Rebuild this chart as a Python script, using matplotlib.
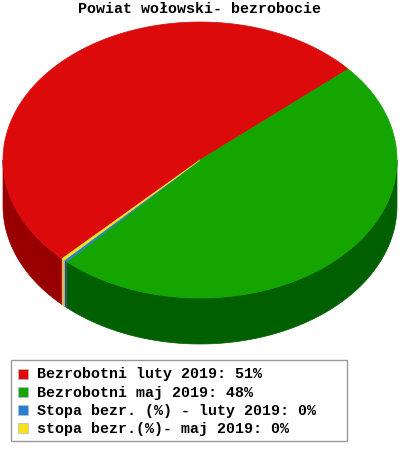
import matplotlib
matplotlib.use("Agg")
import matplotlib.pyplot as plt
from matplotlib.patches import Polygon, Rectangle
import numpy as np

# dane
title = "Powiat wołowski- bezrobocie"
labels = ["Bezrobotni luty 2019: 51%", "Bezrobotni maj 2019: 48%",
          "Stopa bezr. (%) - luty 2019: 0%", "stopa bezr.(%)- maj 2019: 0%"]
values = [1024, 965, 5.2, 4.9]
colors = ["#dc0a0a", "#14a500", "#2882d2", "#fae11e"]
side_colors = ["#980000", "#006000", "#1c5a78", "#e0b860"]
draw_order = [0, 3, 2, 1]  # kolejnosc wycinkow przeciwnie do zegara

cx, cy = 200, 161
rx, ry = 197, 138
depth = 46
start_angle = 41.2

fig = plt.figure(figsize=(4, 4.52), dpi=100)
ax = fig.add_axes([0, 0, 1, 1])
ax.set_xlim(0, 400)
ax.set_ylim(452, 0)
ax.axis("off")


def ellipse_pts(angles):
    rad = np.radians(angles)
    return cx + rx * np.cos(rad), cy - ry * np.sin(rad)


total = sum(values)
edges = [start_angle]
for i in draw_order:
    edges.append(edges[-1] + values[i] / total * 360)

# bok tortu - tylko dolna polowa elipsy (waskie wycinki na koncu, zeby byly widoczne)
for n in [0, 3, 2, 1]:
    i = draw_order[n]
    a0, a1 = max(edges[n], 180), min(edges[n + 1], 360)
    if a1 > a0:
        x, y = ellipse_pts(np.linspace(a0, a1, 200))
        pts = np.r_[np.c_[x, y], np.c_[x, y + depth][::-1]]
        ax.add_patch(Polygon(pts, closed=True, fc=side_colors[i], ec=side_colors[i], lw=0.5))

# wierzch tortu
for n in [0, 3, 2, 1]:
    i = draw_order[n]
    x, y = ellipse_pts(np.linspace(edges[n], edges[n + 1], 300))
    pts = np.r_[[[cx, cy]], np.c_[x, y]]
    ax.add_patch(Polygon(pts, closed=True, fc=colors[i], ec=colors[i], lw=0.5))

ax.text(199, 9, title, family="Liberation Mono", weight="bold", fontsize=10.8,
        ha="center", va="center", color="black")

# legenda
ax.add_patch(Rectangle((10.5, 360.5), 336, 81, fc="white", ec="#999999", lw=1))
row_y = [374.5, 393, 411, 429]
for y, lab, col in zip(row_y, labels, colors):
    ax.add_patch(Rectangle((18, y - 5), 10, 10, fc=col, ec="#bbbbbb", lw=0.5))
    ax.text(37, y, lab, family="Liberation Mono", weight="bold", fontsize=10.8,
            ha="left", va="center", color="black")

fig.savefig("out.png", dpi=100, facecolor="white")
